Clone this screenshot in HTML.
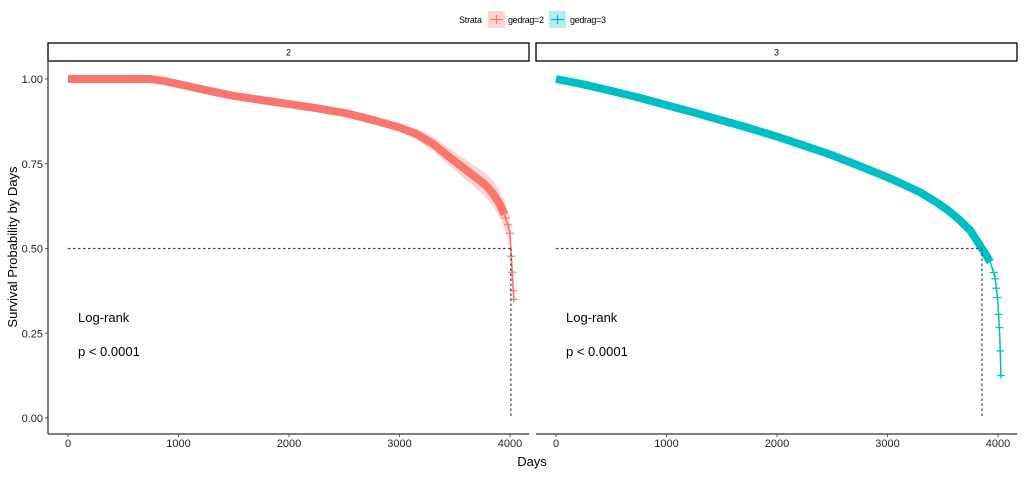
<!DOCTYPE html>
<html><head><meta charset="utf-8"><style>
body{margin:0;background:#fff;font-family:"Liberation Sans",sans-serif}
svg text{font-family:"Liberation Sans",sans-serif}
</style></head><body>
<svg id="c" width="1024" height="472" viewBox="0 0 1024 472"></svg>
<script>
const ticksX=[0,1000,2000,3000,4000];
const ticksY=[0,0.25,0.5,0.75,1.0];
const tickLabelsY=["0.00","0.25","0.50","0.75","1.00"];
const days2=[0,750,850,1000,1250,1500,1750,2000,2250,2500,2750,3000,3150,3300,3450,3550,3650,3750,3800,3850,3900,3950,3980,4000,4008,4015,4025,4035];
const surv2=[1,1,0.995,0.985,0.967,0.95,0.938,0.926,0.914,0.90,0.88,0.857,0.838,0.81,0.77,0.745,0.72,0.695,0.68,0.66,0.635,0.60,0.57,0.545,0.50,0.46,0.40,0.35];
const days3=[0,250,500,750,1000,1250,1500,1750,2000,2250,2500,2750,3000,3150,3300,3450,3550,3650,3750,3855,3930,3973,3997,4015,4027];
const surv3=[1,0.984,0.965,0.945,0.923,0.901,0.878,0.855,0.83,0.803,0.775,0.743,0.71,0.688,0.665,0.635,0.612,0.585,0.553,0.50,0.46,0.416,0.35,0.25,0.125];
const median2=4008, median3=3855;
const censor2=[3900,3930,3960,3980,4000,4012,4020,4030,4035];
const censor3=[3960,3975,3985,3995,4005,4012,4020,4027];
const NS="http://www.w3.org/2000/svg";
const svg=document.getElementById('c');
function el(t,a,p){const e=document.createElementNS(NS,t);for(const k in a)e.setAttribute(k,a[k]);(p||svg).appendChild(e);return e;}
const yS=v=>418-v*339;
function interp(d,s,x){for(let i=1;i<d.length;i++){if(x<=d[i]){const t=(x-d[i-1])/(d[i]-d[i-1]);return s[i-1]+t*(s[i]-s[i-1]);}}return s[s.length-1];}
// legend
let t=el('text',{x:459,y:23,'font-size':9,fill:'#000',textLength:23});t.textContent='Strata';

[[488,'#F8766D','gedrag=2',508],[549,'#00BFC4','gedrag=3',570]].forEach((l,i)=>{
 const g=el('g',{});
 
 el('rect',{x:l[0],y:11,width:17,height:17,fill:l[1],'fill-opacity':0.3},g);
 el('line',{x1:l[0]+2,y1:19.5,x2:l[0]+15,y2:19.5,stroke:l[1],'stroke-width':1.2},g);
 el('line',{x1:l[0]+8.5,y1:15,x2:l[0]+8.5,y2:24,stroke:l[1],'stroke-width':1.2},g);
 const tt=el('text',{x:l[3],y:23,'font-size':9,textLength:36},g);tt.textContent=l[2];
});
const panels=[{x0:48,x1:529,o:68,lab:'2',d:days2,s:surv2,c:'#F8766D',m:median2,cz:censor2,rib:true},
{x0:536,x1:1017,o:556,lab:'3',d:days3,s:surv3,c:'#00BFC4',m:median3,cz:censor3,rib:false}];
panels.forEach((p,pi)=>{
 const xS=v=>p.o+v*442/4000;
 const g=el('g',{});
 
 el('rect',{x:p.x0,y:43,width:p.x1-p.x0,height:18,fill:'#fff',stroke:'#000','stroke-width':1.3},g);
 const st=el('text',{x:(p.x0+p.x1)/2,y:55.5,'font-size':9,'text-anchor':'middle'},g);st.textContent=p.lab;
 el('line',{x1:p.x0,y1:434,x2:p.x1,y2:434,stroke:'#555','stroke-width':1.5},g);
 ticksX.forEach(v=>{el('line',{x1:xS(v),y1:434,x2:xS(v),y2:437,stroke:'#555'},g);
  const tx=el('text',{x:xS(v),y:447,'font-size':11,'text-anchor':'middle',fill:'#222'},g);tx.textContent=v;});
 if(p.rib){let up=[],lo=[];for(let i=0;i<p.d.length;i++){const w=p.d[i]>3000?0.012+(p.d[i]-3000)/1000*0.03:0.006;up.push(xS(p.d[i])+','+yS(Math.min(1,p.s[i]+w)));lo.unshift(xS(p.d[i])+','+yS(p.s[i]-w));}
  const r=el('polygon',{points:up.concat(lo).join(' '),fill:p.c,'fill-opacity':0.3},g);
  }
 const cut=pi==0?3950:3930;
 let thick=[],thin=[];
 const lastThick=p.d.filter(x=>x<=cut).slice(-1)[0];
 p.d.forEach((d,i)=>{const pt=xS(d)+','+yS(p.s[i]);if(d<=cut)thick.push(pt);if(d>=lastThick)thin.push(pt);});
 const th=el('polyline',{points:thick.join(' '),fill:'none',stroke:p.c,'stroke-width':8,'stroke-linejoin':'round'},g);
 
 el('polyline',{points:thin.join(' '),fill:'none',stroke:p.c,'stroke-width':1.5},g);
 p.cz.forEach(d=>{const x=xS(d),y=yS(interp(p.d,p.s,d));
  el('line',{x1:x-4,y1:y,x2:x+4,y2:y,stroke:p.c,'stroke-width':1.2},g);
  el('line',{x1:x,y1:y-3,x2:x,y2:y+3,stroke:p.c,'stroke-width':1.2},g);});
 el('line',{x1:xS(0),y1:yS(0.5),x2:xS(p.m),y2:yS(0.5),stroke:'#444','stroke-width':1.2,'stroke-dasharray':'2.5,2.5'},g);
 el('line',{x1:xS(p.m),y1:yS(0.5),x2:xS(p.m),y2:yS(0),stroke:'#444','stroke-width':1.2,'stroke-dasharray':'2.5,2.5'},g);
 const l1=el('text',{x:p.o+10,y:322,'font-size':13},g);l1.textContent='Log-rank';
 
 const l2=el('text',{x:p.o+10,y:356,'font-size':13},g);l2.textContent='p < 0.0001';
 
});
const ya=el('g',{});
el('line',{x1:48,y1:61,x2:48,y2:434,stroke:'#555','stroke-width':1.5},ya);
ticksY.forEach((v,i)=>{el('line',{x1:45,y1:yS(v),x2:48,y2:yS(v),stroke:'#555'},ya);
 const tx=el('text',{x:43,y:yS(v)+4,'font-size':11,'text-anchor':'end',fill:'#222'},ya);tx.textContent=tickLabelsY[i];});
const yt=el('text',{x:17,y:247,'font-size':13,'text-anchor':'middle',transform:'rotate(-90 17 247)'});yt.textContent='Survival Probability by Days';

const xt=el('text',{x:532,y:466,'font-size':13,'text-anchor':'middle'});xt.textContent='Days';

</script>
</body></html>
